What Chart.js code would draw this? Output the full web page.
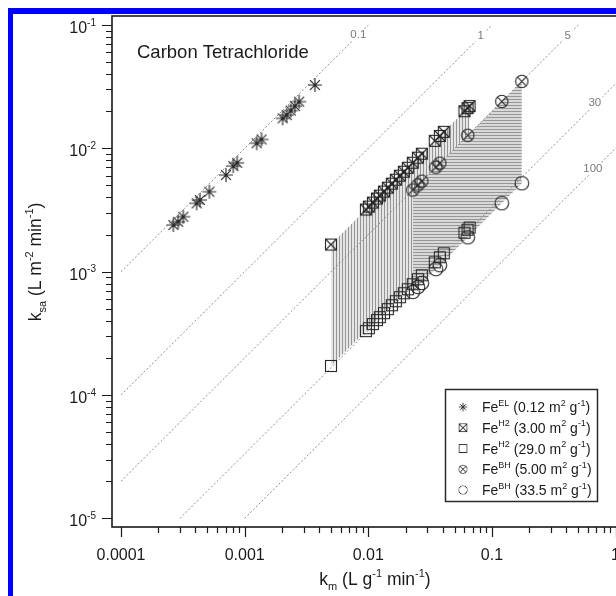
<!DOCTYPE html>
<html>
<head>
<meta charset="utf-8">
<script src="https://cdn.jsdelivr.net/npm/chart.js@4.4.1/dist/chart.umd.min.js"></script>
<style>
  html, body { margin: 0; padding: 0; background: #fff; overflow: hidden; width: 616px; height: 596px; }
  #frame { position: absolute; left: 8px; top: 8px; width: 700px; height: 700px;
           border-left: 5px solid #0000ff; border-top: 6px solid #0000ff; }
  #wrap { position: absolute; left: 0; top: 0; width: 700px; height: 596px; }
</style>
</head>
<body>
<div id="frame"></div>
<div id="wrap"><canvas id="chart" width="700" height="596"></canvas></div>
<script>
// --- data (k_m in L g^-1 min^-1, k_sa in L m^-2 min^-1) ---
const feElKm  = [2.65e-4, 2.90e-4, 3.19e-4, 4.09e-4, 4.35e-4, 5.18e-4, 7.06e-4, 8.09e-4, 8.71e-4,
                 1.25e-3, 1.37e-3, 2.03e-3, 2.19e-3, 2.36e-3, 2.55e-3, 2.76e-3, 3.70e-3];
const feElKsa = [2.39e-3, 2.54e-3, 2.79e-3, 3.58e-3, 3.81e-3, 4.45e-3, 6.07e-3, 7.18e-3, 7.63e-3,
                 1.10e-2, 1.18e-2, 1.75e-2, 1.86e-2, 2.02e-2, 2.20e-2, 2.39e-2, 3.26e-2];

// Fe-H2: same k_m, normalised by 3.00 and by 29.0 m2/g
const feH2Km    = [0.00499, 0.00957, 0.0101, 0.0109, 0.01175, 0.0124, 0.0134, 0.0144, 0.0155, 0.0167, 0.0180,
                   0.0194, 0.0209, 0.0229, 0.0252, 0.0271, 0.0345, 0.0379, 0.0408, 0.0600, 0.0635, 0.0660];
const feH2aKsa  = [0.00166, 0.00319, 0.00337, 0.00363, 0.00392, 0.00414, 0.00446, 0.00480, 0.00517, 0.00557, 0.00600,
                   0.00646, 0.00696, 0.00765, 0.00840, 0.00904, 0.0115, 0.0126, 0.0136, 0.0200, 0.0212, 0.0220];
const feH2bKsa  = [1.72e-4, 3.30e-4, 3.48e-4, 3.76e-4, 4.05e-4, 4.28e-4, 4.61e-4, 4.97e-4, 5.35e-4, 5.76e-4, 6.21e-4,
                   6.69e-4, 7.20e-4, 7.91e-4, 8.69e-4, 9.35e-4, 1.19e-3, 1.31e-3, 1.41e-3, 2.07e-3, 2.19e-3, 2.28e-3];

// Fe-BH: same k_m, normalised by 5.00 and by 33.5 m2/g
const feBhKm   = [0.0229, 0.0252, 0.0271, 0.0352, 0.0379, 0.0638, 0.1202, 0.1746];
const feBhaKsa = [0.00459, 0.00504, 0.00542, 0.00704, 0.00758, 0.01276, 0.0240, 0.0349];
const feBhbKsa = [6.85e-4, 7.52e-4, 8.10e-4, 1.05e-3, 1.13e-3, 1.90e-3, 3.59e-3, 5.21e-3];

// constant surface-area lines
const refLabels  = ['0.1', '1', '5', '30', '100'];
const refStartX  = [1e-4, 1e-4, 1e-4, 3e-4, 1e-3];
const refStartY  = [1e-3, 1e-4, 2e-5, 1e-5, 1e-5];
const refEndX    = [0.01, 0.1, 0.5, 3, 10];
const refEndY    = [0.1, 0.1, 0.1, 0.1, 0.1];
const refLabelX  = [0.0083, 0.081, 0.41, 0.68, 0.655];
const refLabelY  = [0.083, 0.081, 0.082, 0.0235, 0.0068];

const legendSup  = ['EL', 'H2', 'H2', 'BH', 'BH'];
const legendArea = ['0.12', '3.00', '29.0', '5.00', '33.5'];

const xTickValues = [1e-4, 1e-3, 0.01, 0.1, 1];
const xTickLabels = ['0.0001', '0.001', '0.01', '0.1', '1'];
const yTickValues = [1e-5, 1e-4, 1e-3, 1e-2, 1e-1];
const yTickExps   = ['-5', '-4', '-3', '-2', '-1'];

const FONT = '"Liberation Sans", Arial, Helvetica, sans-serif';
const INK = '#1a1a1a';

// marker images
function makeMarker(size, lw, fn) {
  const c = document.createElement('canvas');
  c.width = size; c.height = size;
  const g = c.getContext('2d');
  g.strokeStyle = '#262626';
  g.lineWidth = lw;
  fn(g, size / 2);
  return c;
}
const mAsterisk = makeMarker(16, 1.15, (g, m) => {
  g.beginPath();
  for (let a = 0; a < 4; a++) {
    const t = a * Math.PI / 4, r = 7;
    g.moveTo(m - r * Math.cos(t), m - r * Math.sin(t));
    g.lineTo(m + r * Math.cos(t), m + r * Math.sin(t));
  }
  g.stroke();
});
const mBoxX = makeMarker(14, 1.1, (g, m) => {
  g.strokeRect(1.5, 1.5, 11, 11);
  g.beginPath(); g.moveTo(1.5, 1.5); g.lineTo(12.5, 12.5); g.moveTo(12.5, 1.5); g.lineTo(1.5, 12.5); g.stroke();
});
const mBox = makeMarker(14, 1.1, (g, m) => { g.strokeRect(1.5, 1.5, 11, 11); });
const mCircX = makeMarker(15, 1.1, (g, m) => {
  g.beginPath(); g.arc(m, m, 6.2, 0, Math.PI * 2); g.stroke();
  const d = 4.3;
  g.beginPath(); g.moveTo(m - d, m - d); g.lineTo(m + d, m + d); g.moveTo(m + d, m - d); g.lineTo(m - d, m + d); g.stroke();
});
const mCirc = makeMarker(16, 1.1, (g, m) => { g.beginPath(); g.arc(m, m, 6.8, 0, Math.PI * 2); g.stroke(); });
const legendMarkers = [mAsterisk, mBoxX, mBox, mCircX, mCirc];

// hatch patterns
const chartCtx = document.getElementById('chart').getContext('2d');
function makeHatch(vertical, lineColor, bg) {
  const c = document.createElement('canvas');
  c.width = 3; c.height = 3;
  const g = c.getContext('2d');
  g.fillStyle = bg; g.fillRect(0, 0, 3, 3);
  g.fillStyle = lineColor;
  if (vertical) g.fillRect(0, 0, 1, 3); else g.fillRect(0, 0, 3, 1);
  return chartCtx.createPattern(c, 'repeat');
}

const pts = (xs, ys) => xs.map((x, i) => ({ x: x, y: ys[i] }));

function markerSet(label, xs, ys, img, extra) {
  return Object.assign({
    label: label, data: pts(xs, ys), showLine: false, borderWidth: 0,
    pointStyle: img, pointRadius: 7, fill: false
  }, extra || {});
}

const datasets = [
  markerSet('FeEL (0.12)', feElKm, feElKsa, mAsterisk),
  markerSet('FeBH (5.00)', feBhKm, feBhaKsa, mCircX, { fill: '+1', backgroundColor: makeHatch(false, '#979797', '#d9d9d9') }),
  markerSet('FeBH (33.5)', feBhKm, feBhbKsa, mCirc),
  markerSet('FeH2 (3.00)', feH2Km, feH2aKsa, mBoxX, { fill: '+1', backgroundColor: makeHatch(true, '#959595', '#e6e6e6') }),
  markerSet('FeH2 (29.0)', feH2Km, feH2bKsa, mBox)
];
refLabels.forEach((lab, i) => {
  datasets.push({
    label: 'a = ' + lab,
    data: [{ x: refStartX[i], y: refStartY[i] }, { x: refEndX[i], y: refEndY[i] }],
    borderColor: '#8c8c8c', borderWidth: 1, borderDash: [2, 2],
    pointRadius: 0, fill: false
  });
});

// rich text helper (sub/superscripts)
function fontFor(p, size) { return (p[1] ? Math.round(size * 0.64) : size) + 'px ' + FONT; }
function drawRich(ctx, parts, x, y, size, align) {
  let w = 0;
  parts.forEach(p => { ctx.font = fontFor(p, size); w += ctx.measureText(p[0]).width; });
  let cx = align === 'center' ? x - w / 2 : (align === 'right' ? x - w : x);
  ctx.textAlign = 'left';
  ctx.textBaseline = 'alphabetic';
  parts.forEach(p => {
    ctx.font = fontFor(p, size);
    let dy = 0;
    if (p[1] === 'sup') dy = -size * 0.45;
    if (p[1] === 'sub') dy = size * 0.3;
    ctx.fillText(p[0], cx, y + dy);
    cx += ctx.measureText(p[0]).width;
  });
}

const decorations = {
  id: 'decorations',
  afterDatasetsDraw(chart) {
    const ctx = chart.ctx;
    const xs = chart.scales.x, ys = chart.scales.y;
    const a = chart.chartArea;
    ctx.save();

    // labels on the constant-area lines
    ctx.font = '11.5px ' + FONT;
    ctx.textAlign = 'center';
    ctx.textBaseline = 'middle';
    refLabels.forEach((lab, i) => {
      const px = xs.getPixelForValue(refLabelX[i]);
      const py = ys.getPixelForValue(refLabelY[i]);
      const w = ctx.measureText(lab).width;
      ctx.fillStyle = '#fff';
      ctx.fillRect(px - w / 2 - 2, py - 6, w + 4, 12);
      ctx.fillStyle = '#7a7a7a';
      ctx.fillText(lab, px, py);
    });

    // frame
    ctx.strokeStyle = INK;
    ctx.lineWidth = 1.6;
    ctx.strokeRect(a.left, a.top, a.right - a.left, a.bottom - a.top);

    // ticks
    ctx.lineWidth = 1.2;
    ctx.beginPath();
    xTickValues.forEach(v => {
      for (let k = 1; k <= 9; k++) {
        const val = v * k;
        if (val > xs.max) break;
        const px = Math.round(xs.getPixelForValue(val)) + 0.5;
        ctx.moveTo(px, a.bottom);
        ctx.lineTo(px, a.bottom + (k === 1 ? 10 : 6));
      }
    });
    yTickValues.forEach(v => {
      for (let k = 1; k <= 9; k++) {
        const val = v * k;
        if (val > ys.max) break;
        const py = Math.round(ys.getPixelForValue(val)) + 0.5;
        ctx.moveTo(a.left, py);
        ctx.lineTo(a.left - (k === 1 ? 10 : 6), py);
      }
    });
    ctx.stroke();

    // tick labels
    ctx.fillStyle = INK;
    ctx.font = '16px ' + FONT;
    ctx.textAlign = 'center';
    ctx.textBaseline = 'alphabetic';
    xTickValues.forEach((v, i) => {
      ctx.fillText(xTickLabels[i], xs.getPixelForValue(v), 560);
    });
    yTickValues.forEach((v, i) => {
      const py = ys.getPixelForValue(v);
      drawRich(ctx, [['10'], [yTickExps[i], 'sup']], 96, py + 8, 16, 'right');
    });

    // axis titles
    drawRich(ctx, [['k'], ['m', 'sub'], [' (L g'], ['-1', 'sup'], [' min'], ['-1', 'sup'], [')']], 375, 585, 17.5, 'center');
    ctx.save();
    ctx.translate(41, 262);
    ctx.rotate(-Math.PI / 2);
    drawRich(ctx, [['k'], ['sa', 'sub'], [' (L m'], ['-2', 'sup'], [' min'], ['-1', 'sup'], [')']], 0, 0, 17.5, 'center');
    ctx.restore();

    // panel title
    ctx.font = '18.5px ' + FONT;
    ctx.textAlign = 'left';
    ctx.fillText('Carbon Tetrachloride', 137, 58);

    // legend box
    ctx.fillStyle = '#fff';
    ctx.fillRect(445, 389, 153, 113);
    ctx.strokeStyle = '#2a2a2a';
    ctx.lineWidth = 1.5;
    ctx.strokeRect(445.5, 389.5, 152, 112);
    ctx.fillStyle = INK;
    legendSup.forEach((sup, i) => {
      const cy = 407 + i * 20.75;
      const img = legendMarkers[i];
      ctx.drawImage(img, 463 - 5, cy - 5, 10, 10);
      drawRich(ctx, [['Fe'], [sup, 'sup'], [' (' + legendArea[i] + ' m'], ['2', 'sup'], [' g'], ['-1', 'sup'], [')']],
               482, cy + 5, 14, 'left');
    });
    ctx.restore();
  }
};

new Chart(chartCtx, {
  type: 'line',
  data: { datasets: datasets },
  options: {
    responsive: false,
    animation: false,
    events: [],
    layout: { padding: { left: 112, top: 16, right: 35, bottom: 69 } },
    scales: {
      x: { type: 'logarithmic', display: false, min: 8.453e-5, max: 2.512 },
      y: { type: 'logarithmic', display: false, min: 8.511e-6, max: 0.1183 }
    },
    elements: { line: { tension: 0 } },
    plugins: {
      legend: { display: false },
      tooltip: { enabled: false },
      filler: { drawTime: 'beforeDatasetsDraw' }
    }
  },
  plugins: [decorations]
});
</script>
</body>
</html>
